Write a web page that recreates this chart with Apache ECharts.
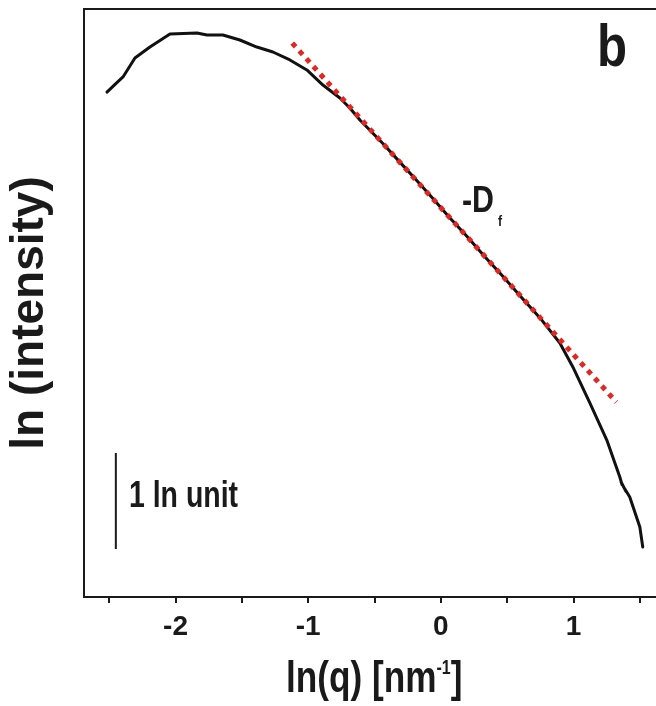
<!DOCTYPE html>
<html>
<head>
<meta charset="utf-8">
<script src="https://cdn.jsdelivr.net/npm/echarts@6/dist/echarts.min.js"></script>
<style>
  html, body { margin: 0; padding: 0; background: #fff; }
  #chart { width: 656px; height: 706px; }
</style>
</head>
<body>
<div id="chart"></div>
<script>
// scattering curve, ln(q) vs ln(intensity)
const lnQ = [
  -2.517, -2.456, -2.396, -2.306, -2.193, -2.042, -1.839, -1.763, -1.643, -1.515,
  -1.387, -1.266, -1.138, -1.010, -0.889, -0.761, -0.686, -0.610, -0.437, -0.309,
  -0.180, -0.060, 0.060, 0.196, 0.330, 0.467, 0.610, 0.746, 0.897, 0.995,
  1.123, 1.251, 1.349, 1.366, 1.358, 1.395, 1.385, 1.424, 1.500, 1.522
]
const lnI = [
  5.260, 5.340, 5.417, 5.615, 5.729, 5.865, 5.875, 5.854, 5.854, 5.802,
  5.729, 5.677, 5.594, 5.490, 5.333, 5.198, 5.094, 4.969, 4.724, 4.530,
  4.335, 4.150, 3.960, 3.758, 3.548, 3.342, 3.118, 2.910, 2.646, 2.396,
  2.021, 1.635, 1.250, 1.170, 1.200, 1.100, 1.130, 1.042, 0.729, 0.521
]

// power-law fit, slope -Df
const fitQ = [-1.12, 1.323]
const fitI = [5.77, 2.03]

// 1 ln unit scale bar
const barQ = [-2.45, -2.45]
const barI = [0.5, 1.5]

const xTicks = [-2.5, -2, -1.5, -1, -0.5, 0, 0.5, 1, 1.5]
const xLabels = [-2, -1, 0, 1]

const SANS = "'Liberation Sans', Arial, sans-serif"
const INK = '#1a1a1a'

const zip = (a, b) => a.map((v, i) => [v, b[i]])

// no narrow face installed, so squeeze the bold sans horizontally
function label(x, y, text, size, squeeze, rich) {
  return {
    type: 'text',
    x: x,
    y: y,
    scaleX: squeeze,
    style: {
      text: text,
      font: 'bold ' + size + 'px ' + SANS,
      fill: INK,
      align: 'left',
      verticalAlign: 'middle',
      rich: rich,
    },
  }
}

const chart = echarts.init(document.getElementById('chart'), null, { renderer: 'canvas' })

const option = {
  backgroundColor: '#fff',
  animation: false,
  grid: {
    left: 84,
    top: 9,
    right: -17,
    bottom: 109,
    outerBoundsMode: 'none',
    show: true,
    borderColor: INK,
    borderWidth: 2,
  },
  xAxis: {
    type: 'value',
    min: -2.69,
    max: 1.75,
    splitLine: { show: false },
    axisLine: { show: true, onZero: false, lineStyle: { color: INK, width: 2 } },
    axisTick: {
      show: true,
      inside: false,
      length: 6,
      customValues: xTicks,
      lineStyle: { color: INK, width: 2 },
    },
    axisLabel: {
      show: true,
      customValues: xLabels,
      margin: 16,
      fontFamily: SANS,
      fontWeight: 'bold',
      fontSize: 28,
      color: INK,
    },
  },
  yAxis: {
    type: 'value',
    min: 0,
    max: 6.125,
    name: 'ln (intensity)',
    nameLocation: 'middle',
    nameRotate: 90,
    nameGap: 31,
    nameTextStyle: {
      fontFamily: SANS,
      fontWeight: 'bold',
      fontSize: 46,
      color: INK,
      padding: [0, 20, 0, 0],
    },
    splitLine: { show: false },
    axisLine: { show: true, onZero: false, lineStyle: { color: INK, width: 2 } },
    axisTick: { show: false },
    axisLabel: { show: false },
  },
  series: [
    {
      type: 'line',
      name: 'curve',
      data: zip(lnQ, lnI),
      showSymbol: false,
      smooth: false,
      lineStyle: { color: '#111', width: 3, join: 'round', cap: 'round' },
      z: 2,
    },
    {
      type: 'line',
      name: 'fit',
      data: zip(fitQ, fitI),
      showSymbol: false,
      lineStyle: { color: '#e52620', width: 5, type: [5, 5.5], cap: 'butt' },
      z: 3,
    },
    {
      type: 'line',
      name: 'scale',
      data: zip(barQ, barI),
      showSymbol: false,
      lineStyle: { color: INK, width: 2 },
      z: 2,
    },
  ],
  graphic: [
    label(597, 49, 'b', 60, 0.82),
    label(462, 202, '-D', 37, 0.82),
    label(498, 222, 'f', 15, 0.82),
    label(129, 497, '1 ln unit', 36, 0.79),
    label(286, 680, '{a|ln(q) [nm}{s|-1}{a|]}', 44, 0.8, {
      a: { font: 'bold 44px ' + SANS, fill: INK },
      s: { font: 'bold 20px ' + SANS, fill: INK, verticalAlign: 'top', padding: [0, 0, 22, 0] },
    }),
  ],
}

chart.setOption(option)
window.addEventListener('resize', () => chart.resize())
</script>
</body>
</html>
